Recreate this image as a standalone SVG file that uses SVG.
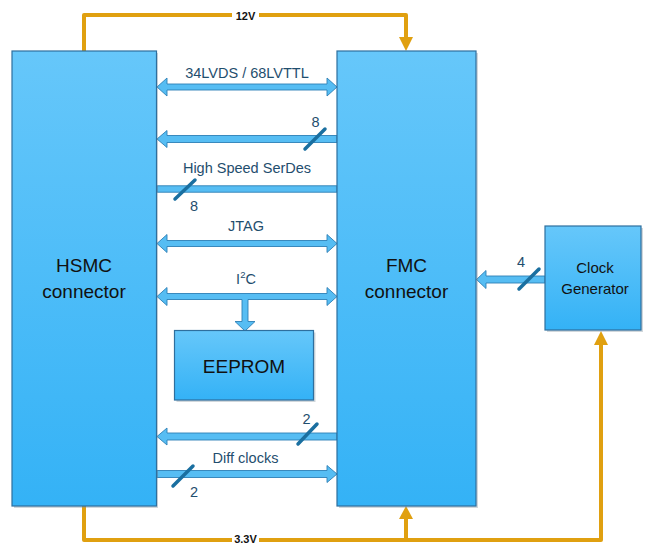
<svg xmlns="http://www.w3.org/2000/svg" width="649" height="544" viewBox="0 0 649 544">
<defs>
<linearGradient id="boxg" x1="0" y1="0" x2="0" y2="1">
<stop offset="0" stop-color="#66C7FA"/>
<stop offset="1" stop-color="#34B2F6"/>
</linearGradient>
<style>
.box{fill:url(#boxg);stroke:#2E6F9E;stroke-width:1.2}
.shadow{fill:#7A8C99;opacity:0.35}
.btxt{font-family:"Liberation Sans",Arial,sans-serif;font-size:19px;fill:#111;text-anchor:middle}
.ctxt{font-family:"Liberation Sans",Arial,sans-serif;font-size:15px;fill:#111;text-anchor:middle}
.lbl{font-family:"Liberation Sans",Arial,sans-serif;font-size:14.5px;fill:#1F4E6E;text-anchor:middle}
.pwr{fill:none;stroke:#E0A010;stroke-width:4;stroke-linejoin:round;stroke-linecap:butt}
.pwrhead{fill:#E0A010}
.plbl{font-family:"Liberation Sans",Arial,sans-serif;font-size:11px;font-weight:bold;fill:#111;text-anchor:middle}
.arr{fill:#56BDF3;stroke:#2D7FB5;stroke-width:0.9;stroke-linejoin:miter}
.slash{stroke:#1A6FA0;stroke-width:3.5;stroke-linecap:round}
</style>
</defs>

<g id="connectors">
  <!-- power 12V -->
  <path class="pwr" d="M84,51 V15 H406 V38"/>
  <polygon class="pwrhead" points="399,37 413,37 406,51"/>
  <rect x="232" y="8" width="27" height="14" fill="#fff"/>
  <text class="plbl" x="245.5" y="19.5">12V</text>
  <!-- power 3.3V -->
  <path class="pwr" d="M84,506 V540 H601 V344"/>
  <path class="pwr" d="M406,540 V518"/>
  <polygon class="pwrhead" points="399,519 413,519 406,506"/>
  <polygon class="pwrhead" points="594,345 608,345 601,331"/>
  <rect x="232" y="534" width="27" height="10" fill="#fff"/>
  <text class="plbl" x="245.5" y="543">3.3V</text>

  <!-- 34LVDS / 68LVTTL double arrow -->
  <path class="arr" d="M157,87 L167,78 L167,84 L327,84 L327,78 L337,87 L327,96 L327,90 L167,90 L167,96 Z"/>
  <text class="lbl" x="247" y="78">34LVDS / 68LVTTL</text>

  <!-- 8 lanes left arrow -->
  <path class="arr" d="M157,139 L167,130.5 L167,135.5 L337,135.5 L337,142.5 L167,142.5 L167,147.5 Z"/>
  <line class="slash" x1="305" y1="149" x2="325" y2="129"/>
  <text class="lbl" x="315.5" y="126.5">8</text>

  <!-- High Speed SerDes bar -->
  <rect class="arr" x="157" y="185.8" width="180" height="6.4"/>
  <text class="lbl" x="247" y="173">High Speed SerDes</text>
  <line class="slash" x1="175" y1="199" x2="195" y2="180"/>
  <text class="lbl" x="194" y="211">8</text>

  <!-- JTAG -->
  <path class="arr" d="M157,243.5 L167,234.5 L167,240.5 L327,240.5 L327,234.5 L337,243.5 L327,252.5 L327,246.5 L167,246.5 L167,252.5 Z"/>
  <text class="lbl" x="246" y="230.5">JTAG</text>

  <!-- I2C -->
  <path class="arr" d="M157,296.5 L167,287.5 L167,293.5 L327,293.5 L327,287.5 L337,296.5 L327,305.5 L327,299.5 L248,299.5 L248,321.5 L255,321.5 L245,331 L235,321.5 L242,321.5 L242,299.5 L167,299.5 L167,305.5 Z"/>
  <text class="lbl" x="246" y="284">I<tspan dy="-6" font-size="9.5px">2</tspan><tspan dy="6">C</tspan></text>

  <!-- Diff 2 left arrow -->
  <path class="arr" d="M157,436.5 L167,428 L167,433 L337,433 L337,440 L167,440 L167,445 Z"/>
  <line class="slash" x1="298" y1="444" x2="317" y2="424"/>
  <text class="lbl" x="306.5" y="423.5">2</text>

  <!-- Diff clocks right arrow -->
  <path class="arr" d="M337,474 L327,465.5 L327,470.5 L157,470.5 L157,477.5 L327,477.5 L327,482.5 Z"/>
  <text class="lbl" x="245.5" y="462.5">Diff clocks</text>
  <line class="slash" x1="173" y1="486" x2="193" y2="466"/>
  <text class="lbl" x="194" y="497">2</text>

  <!-- Clock generator -> FMC -->
  <path class="arr" d="M476.5,279.5 L486,270.5 L486,276 L545,276 L545,283 L486,283 L486,288.5 Z"/>
  <line class="slash" x1="519" y1="289" x2="539" y2="269"/>
  <text class="lbl" x="521" y="267">4</text>
</g>

<g id="hsmc">
  <rect class="shadow" x="14" y="53" width="144" height="455"/>
  <rect class="box" x="12" y="51" width="144.5" height="455"/>
  <text class="btxt" x="84" y="272">HSMC</text>
  <text class="btxt" x="84" y="298">connector</text>
</g>

<g id="fmc">
  <rect class="shadow" x="339" y="53" width="139" height="455"/>
  <rect class="box" x="337" y="51" width="139" height="455"/>
  <text class="btxt" x="406.5" y="272">FMC</text>
  <text class="btxt" x="406.5" y="298">connector</text>
</g>

<g id="eeprom">
  <rect class="shadow" x="176.5" y="332.5" width="139" height="69.5"/>
  <rect class="box" x="174.5" y="330.5" width="139" height="69.5"/>
  <text class="btxt" x="244" y="373">EEPROM</text>
</g>

<g id="clockgen">
  <rect class="shadow" x="547" y="228" width="96" height="104"/>
  <rect class="box" x="545" y="226" width="96" height="104"/>
  <text class="ctxt" x="595" y="273">Clock</text>
  <text class="ctxt" x="595" y="293.5">Generator</text>
</g>
</svg>
